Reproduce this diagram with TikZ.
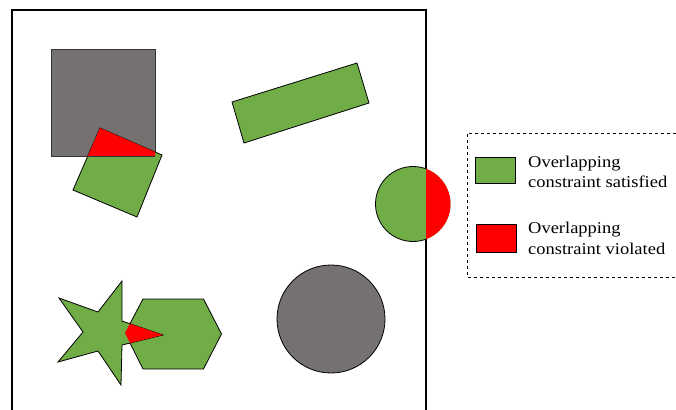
\documentclass[tikz,border=0pt]{standalone}
\usepackage{fontspec}
\setmainfont{Liberation Serif}
\newfontfamily\legendfont[FakeStretch=1.12]{Liberation Serif}
\definecolor{okgreen}{HTML}{70AD47}
\definecolor{shapegray}{HTML}{767171}
\definecolor{badred}{HTML}{FF0000}
\tikzset{
  shapeok/.style={fill=okgreen, draw=black, line width=0.8pt, line join=miter},
  shapegrey/.style={fill=shapegray, draw=black!80, line width=0.8pt},
  shapebad/.style={fill=badred},
  legendtext/.style={anchor=west, align=left, inner sep=0pt, font=\legendfont\fontsize{16.5}{20.5}\selectfont},
}
\begin{document}
\begin{tikzpicture}[x=1pt,y=-1pt]
\clip (0,0) rectangle (676,409);
\fill[white] (0,0) rectangle (676,409);
% frame
\draw[line width=2pt] (12,430) -- (12,10) -- (426,10) -- (426,430);
% gray square with rotated square
\draw[shapegrey] (51,49) rectangle (155,156);
\draw[shapeok] (100,128) -- (162,155) -- (137,217) -- (73,190) -- cycle;
\begin{scope}
  \clip (51,49) rectangle (155,156);
  \fill[shapebad] (100,128) -- (162,155) -- (137,217) -- (73,190) -- cycle;
\end{scope}
\draw[black!80, line width=0.8pt] (88,156) -- (155,156);
% rotated rectangle
\draw[shapeok] (232,102) -- (357,63) -- (369,103) -- (244,143) -- cycle;
% circle across frame
\fill[okgreen] (413,204) circle (37.5);
\begin{scope}
  \clip (426,150) rectangle (470,260);
  \fill[shapebad] (413,204) circle (37.5);
\end{scope}
\begin{scope}
  \clip (360,150) rectangle (426,260);
  \draw[black, line width=0.8pt] (413,204) circle (37.5);
\end{scope}
% gray circle
\draw[shapegrey, draw=black] (331,319) circle (54);
% hexagon and star
\draw[shapeok] (143,299) -- (203.5,299) -- (221.5,334) -- (203.5,369) -- (143,369) -- (125,333) -- cycle;
\draw[shapeok] (122,281) -- (122,321) -- (163,335) -- (122,345) -- (121,385) -- (98,351) -- (58,362) -- (83,332) -- (59,298) -- (98,312) -- cycle;
\begin{scope}
  \clip (143,299) -- (203.5,299) -- (221.5,334) -- (203.5,369) -- (143,369) -- (125,333) -- cycle;
  \fill[shapebad] (122,281) -- (122,321) -- (163,335) -- (122,345) -- (121,385) -- (98,351) -- (58,362) -- (83,332) -- (59,298) -- (98,312) -- cycle;
\end{scope}
% legend
\draw[dashed, line width=0.8pt] (700,133) -- (467,133) -- (467,277) -- (700,277);
\draw[fill=okgreen, draw=black, line width=0.8pt] (475,157) rectangle (515,183.5);
\draw[fill=badred, draw=black, line width=0.8pt] (476,224.5) rectangle (516,252.5);
\node[legendtext] (lok) at (528,172) {Overlapping\\constraint satisfied};
\node[legendtext] (lbad) at (528,238.5) {Overlapping\\constraint violated};
\end{tikzpicture}
\end{document}
